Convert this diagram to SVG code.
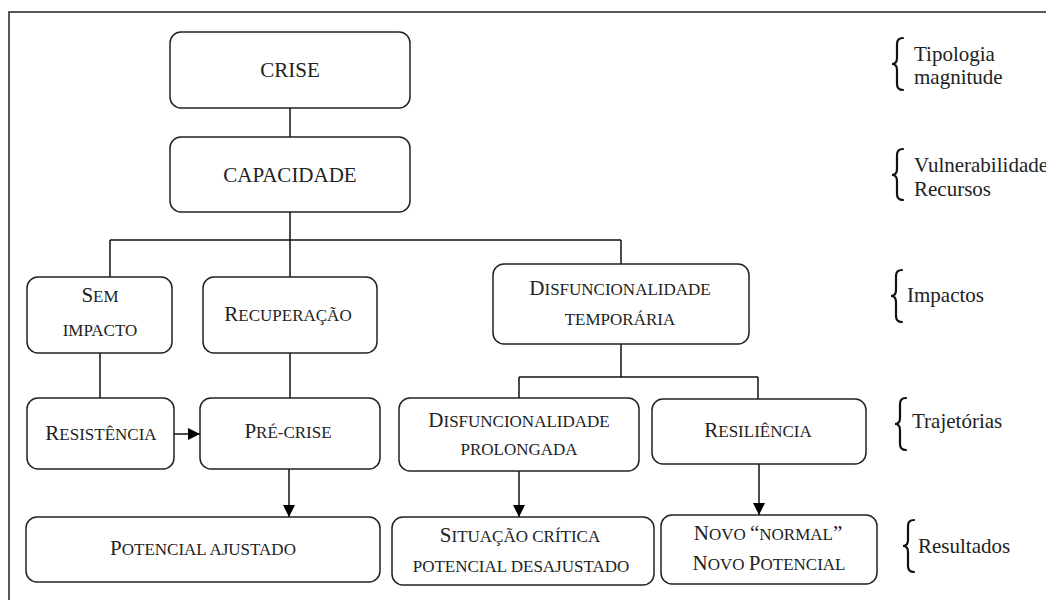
<svg xmlns="http://www.w3.org/2000/svg" width="1046" height="600" viewBox="0 0 1046 600">
<defs>
<marker id="arr" viewBox="0 0 10 10" refX="10" refY="5" markerWidth="12" markerHeight="12" markerUnits="userSpaceOnUse" orient="auto">
<path d="M0,0 L10,5 L0,10 z" fill="#000"/>
</marker>
<style>
.box{fill:#fff;stroke:#222;stroke-width:1.5}
.t{font-family:Liberation Serif,DejaVu Serif,serif;font-size:17px;fill:#222;text-anchor:middle}
.c{font-size:21px}
.big{font-size:21px}
.lab{font-family:Liberation Serif,DejaVu Serif,serif;font-size:21px;fill:#222}
.ln{fill:none;stroke:#111;stroke-width:1.5}
.br{fill:none;stroke:#111;stroke-width:2.2;stroke-linecap:round}
</style>
</defs>
<rect x="0" y="0" width="1046" height="600" fill="#fff"/>
<rect x="9" y="12" width="1060" height="620" fill="none" stroke="#222" stroke-width="1.5"/>

<g id="connectors">
<path class="ln" d="M290,108 V137"/>
<path class="ln" d="M290,212 V277 M110,240 H621 M110,240 V277 M621,240 V264"/>
<path class="ln" d="M621,344 V377 M519,377 H758 M519,377 V398 M758,377 V399"/>
<path class="ln" d="M100,353 V398"/>
<path class="ln" d="M290,353 V398"/>
<path class="ln" d="M174,434 H200" marker-end="url(#arr)"/>
<path class="ln" d="M289,469 V517" marker-end="url(#arr)"/>
<path class="ln" d="M519,471 V517" marker-end="url(#arr)"/>
<path class="ln" d="M759,464 V515" marker-end="url(#arr)"/>
</g>

<g id="crise"><rect class="box" x="170" y="32" width="240" height="76" rx="11"/><text class="t big" x="290" y="77">CRISE</text></g>
<g id="capacidade"><rect class="box" x="170" y="137" width="240" height="75" rx="11"/><text class="t big" x="290" y="182">CAPACIDADE</text></g>
<g id="sem-impacto"><rect class="box" x="27" y="277" width="145" height="76" rx="11"/><text class="t" x="100" y="302"><tspan class="c">S</tspan>EM</text><text class="t" x="100" y="336">IMPACTO</text></g>
<g id="recuperacao"><rect class="box" x="203" y="277" width="174" height="76" rx="11"/><text class="t" x="288" y="321"><tspan class="c">R</tspan>ECUPERAÇÃO</text></g>
<g id="disf-temporaria"><rect class="box" x="493" y="264" width="256" height="80" rx="11"/><text class="t" x="620" y="295"><tspan class="c">D</tspan>ISFUNCIONALIDADE</text><text class="t" x="620" y="325">TEMPORÁRIA</text></g>
<g id="resistencia"><rect class="box" x="27" y="398" width="147" height="71" rx="11"/><text class="t" x="101" y="440"><tspan class="c">R</tspan>ESISTÊNCIA</text></g>
<g id="pre-crise"><rect class="box" x="200" y="398" width="180" height="71" rx="11"/><text class="t" x="288" y="438"><tspan class="c">P</tspan>RÉ-CRISE</text></g>
<g id="disf-prolongada"><rect class="box" x="399" y="398" width="240" height="73" rx="11"/><text class="t" x="519" y="427"><tspan class="c">D</tspan>ISFUNCIONALIDADE</text><text class="t" x="519" y="455">PROLONGADA</text></g>
<g id="resiliencia"><rect class="box" x="652" y="399" width="214" height="65" rx="11"/><text class="t" x="758" y="437"><tspan class="c">R</tspan>ESILIÊNCIA</text></g>
<g id="potencial-ajustado"><rect class="box" x="26" y="517" width="354" height="65" rx="11"/><text class="t" x="203" y="555"><tspan class="c">P</tspan>OTENCIAL AJUSTADO</text></g>
<g id="situacao-critica"><rect class="box" x="392" y="517" width="262" height="68" rx="11"/><text class="t" x="520" y="542"><tspan class="c">S</tspan>ITUAÇÃO CRÍTICA</text><text class="t" x="521" y="572">POTENCIAL DESAJUSTADO</text></g>
<g id="novo-normal"><rect class="box" x="661" y="515" width="216" height="69" rx="11"/><text class="t" x="768" y="540"><tspan class="c">N</tspan>OVO <tspan class="c">“</tspan>NORMAL<tspan class="c">”</tspan></text><text class="t" x="769" y="570"><tspan class="c">N</tspan>OVO <tspan class="c">P</tspan>OTENCIAL</text></g>

<g id="lab-crise">
<path class="br" d="M903,38 Q897,38 897,44 L897,58 Q897,64 892,64 Q897,64 897,70 L897,84 Q897,90 903,90"/>
<text class="lab" x="914" y="61">Tipologia</text><text class="lab" x="914" y="84">magnitude</text>
</g>
<g id="lab-capacidade">
<path class="br" d="M903,149 Q897,149 897,155 L897,169 Q897,175 892,175 Q897,175 897,181 L897,194 Q897,200 903,200"/>
<text class="lab" x="914" y="172">Vulnerabilidade</text><text class="lab" x="914" y="196">Recursos</text>
</g>
<g id="lab-impactos">
<path class="br" d="M902,270 Q896,270 896,276 L896,290 Q896,296 891,296 Q896,296 896,302 L896,316 Q896,322 902,322"/>
<text class="lab" x="907" y="302">Impactos</text>
</g>
<g id="lab-trajetorias">
<path class="br" d="M906,398 Q900,398 900,404 L900,418 Q900,424 895,424 Q900,424 900,430 L900,444 Q900,450 906,450"/>
<text class="lab" x="912" y="428">Trajetórias</text>
</g>
<g id="lab-resultados">
<path class="br" d="M914,520 Q908,520 908,526 L908,540 Q908,546 903,546 Q908,546 908,552 L908,566 Q908,572 914,572"/>
<text class="lab" x="918" y="553">Resultados</text>
</g>
</svg>
